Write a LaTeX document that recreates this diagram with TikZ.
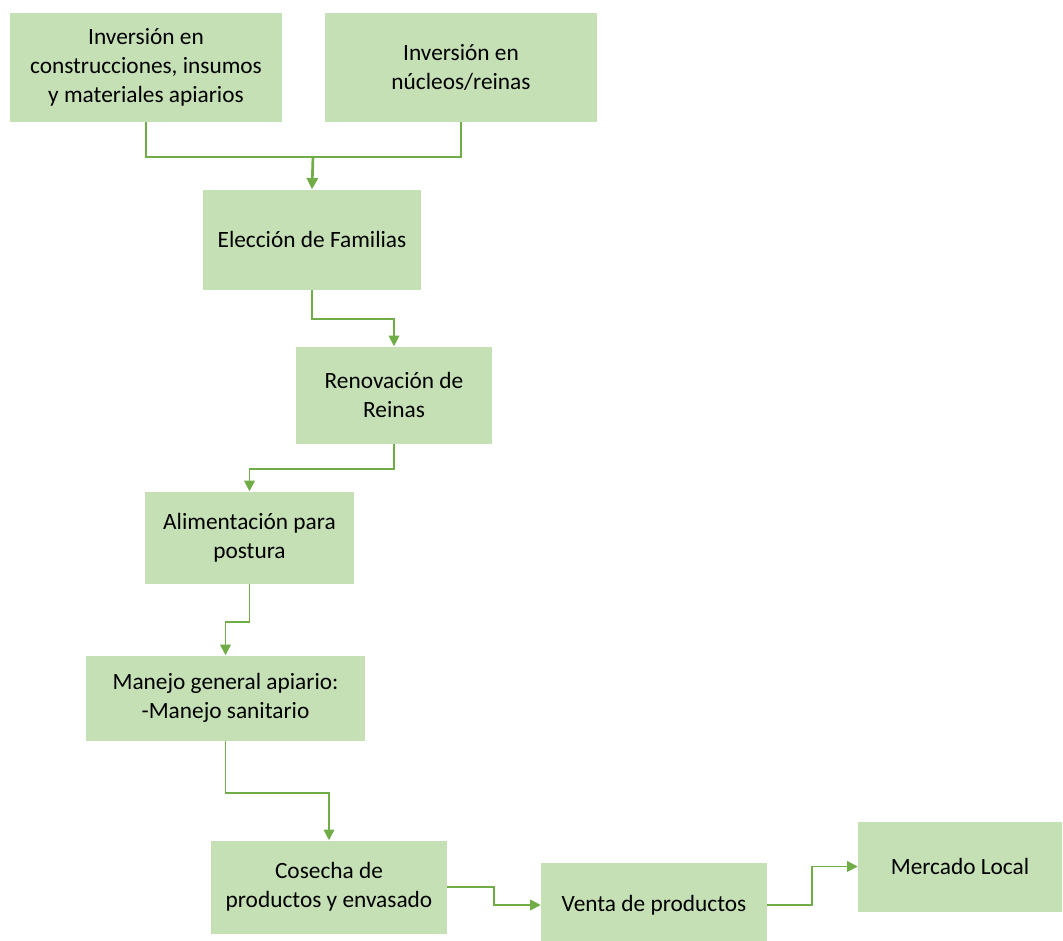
\documentclass[tikz,border=0pt]{standalone}
\usepackage{fontspec}
\setmainfont{Carlito}
\usepackage{tikz}
\usetikzlibrary{arrows.meta, calc}
\definecolor{boxgreen}{RGB}{197,224,180}
\definecolor{linegreen}{RGB}{112,173,71}
\tikzset{
  box/.style={rectangle, draw=none, fill=boxgreen, align=center, inner sep=2pt,
              font=\fontsize{17.5}{21.8}\selectfont},
  arrow/.style={-{Triangle[length=8pt, width=8pt]}, line width=1.3pt, draw=linegreen},
  bigarrow/.style={-{Triangle[length=8.5pt, width=8.5pt]}, line width=2pt, draw=linegreen},
  plainline/.style={line width=1.3pt, draw=linegreen},
}

\begin{document}
\begin{tikzpicture}[x=0.75pt, y=-0.75pt]
  \useasboundingbox (0,0) rectangle (1063,940);

  % Investment boxes
  \node[box, minimum width=204pt, minimum height=81.75pt] (inv1) at (146,67)
    {Inversión en\\construcciones, insumos\\y materiales apiarios};
  \node[box, minimum width=204pt, minimum height=81.75pt] (inv2) at (461,67)
    {Inversión en\\núcleos/reinas};
  \coordinate (join) at (313,156);

  % Main chain
  \node[box, minimum width=163.5pt, minimum height=75pt] (elec) at (312,239.5)
    {Elección de Familias};
  \node[box, minimum width=147pt, minimum height=72.75pt] (reno) at (394,395)
    {Renovación de\\Reinas};
  \node[box, minimum width=156.75pt, minimum height=69pt] (alim) at (249.5,537.5)
    {Alimentación para\\postura};
  \node[box, minimum width=209.25pt, minimum height=63.75pt] (mane) at (225.5,698)
    {Manejo general apiario:\\-Manejo sanitario};
  \node[box, minimum width=177pt, minimum height=69.75pt] (cose) at (329,887)
    {Cosecha de\\productos y envasado};
  \node[box, minimum width=169.5pt, minimum height=63pt] (vent) at (654,905)
    {Venta de productos};
  \node[box, minimum width=153pt, minimum height=67.5pt] (merc) at (960,866.5)
    {Mercado Local};

  % Connectors
  \draw[plainline] (inv1.south) -- ++(0,35) -| (inv2.south);
  \draw[bigarrow] (join) -- (elec.north);
  \draw[arrow] (elec.south) -- ++(0,29) -| (reno.north);
  \draw[arrow] (reno.south) -- ++(0,25) -| (alim.north);
  \draw[arrow] (alim.south) -- ++(0,38) -| (mane.north);
  \draw[arrow] (mane.south) -- ++(0,52) -| (cose.north);
  \draw[arrow] (cose.east) -- ++(47,0) |- (vent.west);
  \draw[arrow] (vent.east) -- ++(45,0) |- (merc.west);
\end{tikzpicture}
\end{document}
